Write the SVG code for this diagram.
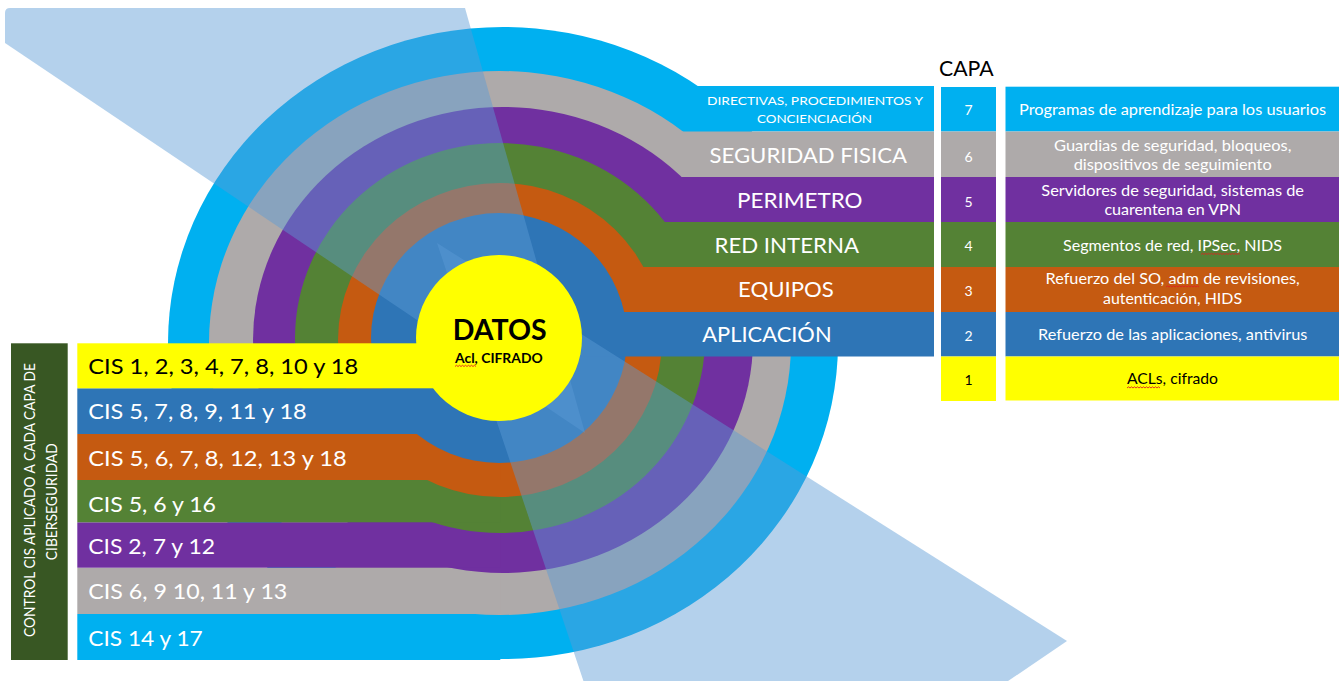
<svg xmlns="http://www.w3.org/2000/svg" width="1340" height="681" viewBox="0 0 1340 681">
<defs>
<style>
text { font-family: Lato, "Liberation Sans", "DejaVu Sans", sans-serif; }
.w { fill: #ffffff; }
.k { fill: #000000; }
.band { font-size: 22px; }
.small { font-size: 12px; }
.num { font-size: 14px; text-anchor: middle; }
.desc { font-size: 16px; }
.cis { font-size: 22px; }
.c7 { fill: #00B0F0; }
.c6 { fill: #AEAAAA; }
.c5 { fill: #7030A0; }
.c4 { fill: #548235; }
.c3 { fill: #C55A11; }
.c2 { fill: #2E75B6; }
.c1 { fill: #FFFF00; }
.ov { fill: #5B9BD5; fill-opacity: 0.46; }
.sq { fill: none; stroke: #E02020; stroke-width: 0.9; }
</style>
</defs>
<rect x="0" y="0" width="1340" height="681" fill="#ffffff"/>

<g id="layer-7">
<ellipse class="c7" cx="503" cy="343" rx="335" ry="316"/>
<rect class="c7" x="500" y="86" width="434" height="45.5"/>
<rect class="c7" x="77.3" y="614" width="423" height="46"/>
<text class="w small" x="707" y="105" textLength="216" lengthAdjust="spacingAndGlyphs">DIRECTIVAS, PROCEDIMIENTOS Y</text>
<text class="w small" x="757" y="123.3" textLength="115" lengthAdjust="spacingAndGlyphs">CONCIENCIACIÓN</text>
<text class="w cis" x="88.3" y="645.7" textLength="114.4" lengthAdjust="spacingAndGlyphs">CIS 14 y 17</text>
<rect class="c7" x="941" y="87" width="55" height="44.5"/>
<text class="w num" x="968.5" y="115">7</text>
<rect class="c7" x="1005.5" y="86.7" width="333.5" height="44.8"/>
<text class="w desc" x="1019" y="115" textLength="307" lengthAdjust="spacingAndGlyphs">Programas de aprendizaje para los usuarios</text>
</g>

<g id="layer-6">
<ellipse class="c6" cx="500" cy="343" rx="291" ry="272"/>
<rect class="c6" x="500" y="131.5" width="434" height="45.5"/>
<rect class="c6" x="77.3" y="567.7" width="423" height="46.3"/>
<text class="w band" x="709.5" y="163.3" textLength="197.5" lengthAdjust="spacingAndGlyphs">SEGURIDAD FISICA</text>
<text class="w cis" x="88.3" y="599.3" textLength="199" lengthAdjust="spacingAndGlyphs">CIS 6, 9 10, 11 y 13</text>
<rect class="c6" x="941" y="131.5" width="55" height="45.5"/>
<text class="w num" x="968.5" y="161.7">6</text>
<rect class="c6" x="1005.5" y="131.5" width="333.5" height="45.5"/>
<text class="w desc" x="1054" y="151" textLength="237.5" lengthAdjust="spacingAndGlyphs">Guardias de seguridad, bloqueos,</text>
<text class="w desc" x="1073.7" y="170" textLength="198" lengthAdjust="spacingAndGlyphs">dispositivos de seguimiento</text>
</g>

<g id="layer-5">
<ellipse class="c5" cx="503" cy="340" rx="250" ry="233"/>
<rect class="c5" x="500" y="177" width="434" height="45"/>
<rect class="c5" x="77.3" y="522.3" width="423" height="45.4"/>
<text class="w band" x="737" y="208.3" textLength="125.5" lengthAdjust="spacingAndGlyphs">PERIMETRO</text>
<text class="w cis" x="88.3" y="554" textLength="126.7" lengthAdjust="spacingAndGlyphs">CIS 2, 7 y 12</text>
<rect class="c5" x="941" y="177" width="55" height="45"/>
<text class="w num" x="968.5" y="206.7">5</text>
<rect class="c5" x="1005.5" y="177" width="333.5" height="45"/>
<text class="w desc" x="1041.3" y="195.7" textLength="262.7" lengthAdjust="spacingAndGlyphs">Servidores de seguridad, sistemas de</text>
<text class="w desc" x="1104.4" y="215" textLength="136.6" lengthAdjust="spacingAndGlyphs">cuarentena en VPN</text>
</g>

<g id="layer-4">
<ellipse class="c4" cx="500" cy="338" rx="205" ry="195"/>
<rect class="c4" x="500" y="222" width="434" height="45"/>
<rect class="c4" x="77.3" y="480" width="423" height="42.3"/>
<text class="w band" x="714.5" y="253.3" textLength="144.5" lengthAdjust="spacingAndGlyphs">RED INTERNA</text>
<text class="w cis" x="88.3" y="511.7" textLength="127.7" lengthAdjust="spacingAndGlyphs">CIS 5, 6 y 16</text>
<rect class="c4" x="941" y="222" width="55" height="45"/>
<text class="w num" x="968.5" y="250.7">4</text>
<rect class="c4" x="1005.5" y="222" width="333.5" height="45"/>
<text class="w desc" x="1063" y="250.7" textLength="219" lengthAdjust="spacingAndGlyphs">Segmentos de red, IPSec, NIDS</text>
<path class="sq" d="M1201 254.5 l1.5 -1.2 l1.5 1.2 l1.5 -1.2 l1.5 1.2 l1.5 -1.2 l1.5 1.2 l1.5 -1.2 l1.5 1.2 l1.5 -1.2 l1.5 1.2 l1.5 -1.2 l1.5 1.2 l1.5 -1.2 l1.5 1.2 l1.5 -1.2 l1.5 1.2 l1.5 -1.2 l1.5 1.2 l1.5 -1.2 l1.5 1.2 l1.5 -1.2 l1.5 1.2 l1.5 -1.2 l1.5 1.2 l1.5 -1.2 l1.5 1.2"/>
</g>

<g id="layer-3">
<ellipse class="c3" cx="500" cy="340" rx="162" ry="157"/>
<rect class="c3" x="500" y="267" width="434" height="45"/>
<rect class="c3" x="77.3" y="434" width="423" height="46"/>
<text class="w band" x="738" y="297" textLength="95.7" lengthAdjust="spacingAndGlyphs">EQUIPOS</text>
<text class="w cis" x="88.3" y="466" textLength="258.4" lengthAdjust="spacingAndGlyphs">CIS 5, 6, 7, 8, 12, 13 y 18</text>
<rect class="c3" x="941" y="267" width="55" height="45"/>
<text class="w num" x="968.5" y="295.7">3</text>
<rect class="c3" x="1005.5" y="267" width="333.5" height="45"/>
<text class="w desc" x="1045.5" y="284.3" textLength="254.3" lengthAdjust="spacingAndGlyphs">Refuerzo del SO, adm de revisiones,</text>
<text class="w desc" x="1103" y="304" textLength="139" lengthAdjust="spacingAndGlyphs">autenticación, HIDS</text>
<path class="sq" d="M1166 287 l1.5 -1.2 l1.5 1.2 l1.5 -1.2 l1.5 1.2 l1.5 -1.2 l1.5 1.2 l1.5 -1.2 l1.5 1.2 l1.5 -1.2 l1.5 1.2 l1.5 -1.2 l1.5 1.2 l1.5 -1.2 l1.5 1.2 l1.5 -1.2 l1.5 1.2 l1.5 -1.2 l1.5 1.2 l1.5 -1.2 l1.5 1.2 l1.5 -1.2 l1.5 1.2"/>
</g>

<g id="layer-2">
<ellipse class="c2" cx="499" cy="338" rx="128" ry="125"/>
<rect class="c2" x="500" y="312" width="434" height="44.5"/>
<rect class="c2" x="77.3" y="388.3" width="423" height="45.7"/>
<text class="w band" x="702.3" y="342" textLength="129.3" lengthAdjust="spacingAndGlyphs">APLICACIÓN</text>
<text class="w cis" x="88.3" y="419.3" textLength="218.4" lengthAdjust="spacingAndGlyphs">CIS 5, 7, 8, 9, 11 y 18</text>
<rect class="c2" x="941" y="312" width="55" height="44.5"/>
<text class="w num" x="968.5" y="340.7">2</text>
<rect class="c2" x="1005.5" y="312" width="333.5" height="44.5"/>
<text class="w desc" x="1038" y="340" textLength="269.4" lengthAdjust="spacingAndGlyphs">Refuerzo de las aplicaciones, antivirus</text>
</g>

<g id="overlay">
<path class="ov" d="M10 8 L465 8 L585 433 L5 43 L5 13 Q5 8 10 8 Z"/>
<path class="ov" d="M437 243 L1067 641 L662 916 Z"/>
</g>

<g id="layer-1">
<rect class="c1" x="77.3" y="343.3" width="423" height="45"/>
<circle class="c1" cx="499" cy="338" r="83"/>
<text class="k" x="452.7" y="340" font-size="28" font-weight="bold" textLength="94" lengthAdjust="spacingAndGlyphs">DATOS</text>
<text class="k" x="455" y="363.3" font-size="12.5" font-weight="bold" textLength="87.7" lengthAdjust="spacingAndGlyphs">Acl, CIFRADO</text>
<path class="sq" d="M455 366.5 l1.5 -1.2 l1.5 1.2 l1.5 -1.2 l1.5 1.2 l1.5 -1.2 l1.5 1.2 l1.5 -1.2 l1.5 1.2 l1.5 -1.2 l1.5 1.2 l1.5 -1.2 l1.5 1.2 l1.5 -1.2 l1.5 1.2"/>
<text class="k cis" x="88.3" y="374" textLength="270" lengthAdjust="spacingAndGlyphs">CIS 1, 2, 3, 4, 7, 8, 10 y 18</text>
<rect class="c1" x="941" y="356.5" width="55" height="44.5"/>
<text class="k num" x="968.5" y="385">1</text>
<rect class="c1" x="1005.5" y="356.5" width="333.5" height="44"/>
<text class="k desc" x="1127" y="384.3" textLength="91" lengthAdjust="spacingAndGlyphs">ACLs, cifrado</text>
<path class="sq" d="M1127 388 l1.5 -1.2 l1.5 1.2 l1.5 -1.2 l1.5 1.2 l1.5 -1.2 l1.5 1.2 l1.5 -1.2 l1.5 1.2 l1.5 -1.2 l1.5 1.2 l1.5 -1.2 l1.5 1.2 l1.5 -1.2 l1.5 1.2 l1.5 -1.2 l1.5 1.2 l1.5 -1.2 l1.5 1.2 l1.5 -1.2 l1.5 1.2 l1.5 -1.2 l1.5 1.2"/>
</g>

<g id="capa-header">
<text class="k" x="939" y="76" font-size="22" textLength="54.7" lengthAdjust="spacingAndGlyphs">CAPA</text>
</g>

<g id="side-label">
<rect x="11" y="343.3" width="56.7" height="316.7" fill="#385723"/>
<text class="w" font-size="16" text-anchor="middle" transform="translate(35 500) rotate(-90)" textLength="274" lengthAdjust="spacingAndGlyphs">CONTROL CIS APLICADO A CADA CAPA DE</text>
<text class="w" font-size="16" text-anchor="middle" transform="translate(56.7 501.7) rotate(-90)" textLength="117" lengthAdjust="spacingAndGlyphs">CIBERSEGURIDAD</text>
</g>

<g id="connectors"/>
</svg>
